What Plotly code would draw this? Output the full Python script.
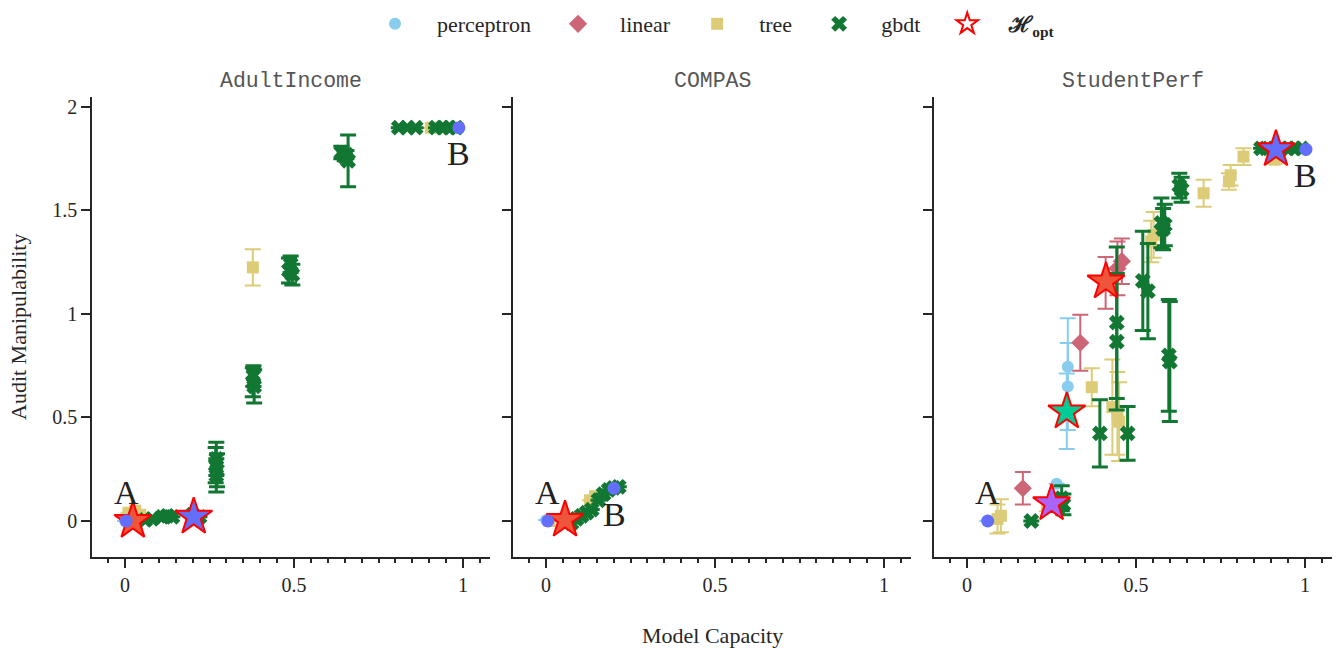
import plotly.graph_objects as go

# ---------------- data ----------------
panel_names = ["AdultIncome", "COMPAS", "StudentPerf"]
model_names = ["perceptron", "linear", "tree", "gbdt"]
model_colors = ["#88CCEE", "#CC6677", "#DDCC77", "#117733"]
model_symbols = ["circle", "diamond", "square", "x"]
model_sizes = [12, 14, 12, 14]

x_tick_vals = [0, 0.5, 1]
x_tick_text = ["0", "0.5", "1"]
y_tick_vals = [0, 0.5, 1, 1.5, 2]
y_tick_text = ["0", "0.5", "1", "1.5", "2"]

# AdultIncome
adult_perceptron_x = [0.0]
adult_perceptron_y = [0.0]
adult_perceptron_err = [0.0]
adult_linear_x = []
adult_linear_y = []
adult_linear_err = []
adult_tree_x = [0.01, 0.03, 0.045, 0.378, 0.905]
adult_tree_y = [0.04, 0.05, 0.03, 1.225, 1.9]
adult_tree_err = [0.0, 0.0, 0.0, 0.088, 0.0]
adult_gbdt_x = [0.06, 0.08, 0.11, 0.125, 0.14, 0.2, 0.22,
                0.27, 0.268, 0.272, 0.27,
                0.38, 0.378, 0.382,
                0.49, 0.485, 0.495,
                0.64, 0.655, 0.66, 0.65,
                0.81, 0.835, 0.86, 0.92, 0.94, 0.96, 0.98]
adult_gbdt_y = [0.005, 0.01, 0.02, 0.025, 0.02, 0.03, 0.02,
                0.30, 0.27, 0.245, 0.22,
                0.70, 0.67, 0.65,
                1.24, 1.21, 1.19,
                1.78, 1.77, 1.74, 1.76,
                1.9, 1.9, 1.9, 1.9, 1.9, 1.9, 1.9]
adult_gbdt_err = [0, 0, 0, 0, 0, 0, 0,
                  0.08, 0.085, 0.08, 0.08,
                  0.05, 0.07, 0.08,
                  0.04, 0.06, 0.05,
                  0.03, 0.02, 0.125, 0.02,
                  0, 0, 0, 0, 0, 0, 0]
adult_opt_x = [0.023, 0.203]
adult_opt_y = [0.0, 0.02]
adult_opt_fill = ["#EF553B", "#636EFA"]
adult_end_x = [0.003, 0.988]
adult_end_y = [0.0, 1.9]

# COMPAS
compas_perceptron_x = [0.0]
compas_perceptron_y = [0.005]
compas_perceptron_err = [0.0]
compas_linear_x = []
compas_linear_y = []
compas_linear_err = []
compas_tree_x = [0.01, 0.13, 0.145]
compas_tree_y = [0.0, 0.10, 0.12]
compas_tree_err = [0.0, 0.0, 0.0]
compas_gbdt_x = [0.075, 0.09, 0.105, 0.12, 0.135, 0.155, 0.17, 0.185, 0.2, 0.215]
compas_gbdt_y = [-0.01, 0.01, 0.025, 0.04, 0.055, 0.10, 0.13, 0.15, 0.16, 0.165]
compas_gbdt_err = [0, 0, 0, 0, 0, 0, 0, 0, 0, 0]
compas_opt_x = [0.056]
compas_opt_y = [0.005]
compas_opt_fill = ["#EF553B"]
compas_end_x = [0.005, 0.201]
compas_end_y = [0.0, 0.158]

# StudentPerf
student_perceptron_x = [0.06, 0.265, 0.298, 0.298, 0.295]
student_perceptron_y = [0.0, 0.18, 0.745, 0.65, 0.53]
student_perceptron_err = [0.0, 0.0, 0.234, 0.21, 0.182]
student_linear_x = [0.165, 0.335, 0.41, 0.445, 0.458]
student_linear_y = [0.158, 0.861, 1.15, 1.22, 1.255]
student_linear_err = [0.078, 0.135, 0.125, 0.13, 0.11]
student_tree_x = [0.09, 0.1, 0.236, 0.369, 0.43, 0.445, 0.45, 0.545, 0.552,
                  0.7, 0.775, 0.78, 0.818, 0.91]
student_tree_y = [0.01, 0.025, 0.077, 0.646, 0.55, 0.52, 0.48, 1.35, 1.382,
                  1.583, 1.64, 1.67, 1.76, 1.745]
student_tree_err = [0.07, 0.08, 0.03, 0.092, 0.23, 0.2, 0.19, 0.1, 0.11,
                    0.065, 0.04, 0.05, 0.04, 0.02]
student_gbdt_x = [0.19, 0.28, 0.285, 0.393, 0.443, 0.443, 0.475, 0.52, 0.535,
                  0.597, 0.6, 0.575, 0.585, 0.58, 0.628, 0.635,
                  0.87, 0.885, 0.93, 0.95, 0.97, 0.99]
student_gbdt_y = [0.0, 0.11, 0.08, 0.423, 0.958, 0.866, 0.423, 1.16, 1.11,
                  0.8, 0.77, 1.44, 1.43, 1.41, 1.62, 1.6,
                  1.8, 1.8, 1.8, 1.8, 1.8, 1.8]
student_gbdt_err = [0, 0.06, 0.05, 0.162, 0.366, 0.33, 0.13, 0.24, 0.23,
                    0.27, 0.29, 0.12, 0.1, 0.1, 0.06, 0.06,
                    0, 0, 0, 0, 0, 0]
student_opt_x = [0.25, 0.295, 0.411, 0.914]
student_opt_y = [0.085, 0.528, 1.156, 1.795]
student_opt_fill = ["#AB63FA", "#00CC96", "#EF553B", "#636EFA"]
student_end_x = [0.061, 1.003]
student_end_y = [0.0, 1.795]

panels = [
    dict(models=[(adult_perceptron_x, adult_perceptron_y, adult_perceptron_err),
                 (adult_linear_x, adult_linear_y, adult_linear_err),
                 (adult_tree_x, adult_tree_y, adult_tree_err),
                 (adult_gbdt_x, adult_gbdt_y, adult_gbdt_err)],
         opt=(adult_opt_x, adult_opt_y, adult_opt_fill),
         end=(adult_end_x, adult_end_y)),
    dict(models=[(compas_perceptron_x, compas_perceptron_y, compas_perceptron_err),
                 (compas_linear_x, compas_linear_y, compas_linear_err),
                 (compas_tree_x, compas_tree_y, compas_tree_err),
                 (compas_gbdt_x, compas_gbdt_y, compas_gbdt_err)],
         opt=(compas_opt_x, compas_opt_y, compas_opt_fill),
         end=(compas_end_x, compas_end_y)),
    dict(models=[(student_perceptron_x, student_perceptron_y, student_perceptron_err),
                 (student_linear_x, student_linear_y, student_linear_err),
                 (student_tree_x, student_tree_y, student_tree_err),
                 (student_gbdt_x, student_gbdt_y, student_gbdt_err)],
         opt=(student_opt_x, student_opt_y, student_opt_fill),
         end=(student_end_x, student_end_y)),
]

# ---------------- figure ----------------
W, H = 1342, 648
SERIF = "Liberation Serif, Times New Roman, serif"
MONO = "Liberation Mono, Courier New, monospace"
INK = "#262626"
END_COLOR = "#636EFA"

x_domains = [(92 / W, 490 / W), (513 / W, 911 / W), (934 / W, 1332 / W)]
y_domain = (1 - 557 / H, 1 - 97 / H)
x_range = [-0.098, 1.08]
y_range = [-0.174, 2.048]

fig = go.Figure()
pad_l = "\u00a0" * 4
pad_r = "\u00a0" * 4

for p, panel in enumerate(panels):
    xa = "x" if p == 0 else f"x{p + 1}"
    ya = "y" if p == 0 else f"y{p + 1}"
    for m, (xs, ys, es) in enumerate(panel["models"]):
        thick = 3 if model_names[m] == "gbdt" else 2
        fig.add_trace(go.Scatter(
            x=xs, y=ys, mode="markers", xaxis=xa, yaxis=ya,
            name=pad_l + model_names[m] + pad_r,
            legendgroup=model_names[m], showlegend=(p == 2),
            marker=dict(symbol=model_symbols[m], size=model_sizes[m],
                        color=model_colors[m], line=dict(width=0)),
            error_y=dict(type="data", array=es, symmetric=True,
                         color=model_colors[m], thickness=thick, width=8),
        ))
    ox, oy, ofill = panel["opt"]
    fig.add_trace(go.Scatter(
        x=ox, y=oy, mode="markers", xaxis=xa, yaxis=ya, showlegend=False,
        marker=dict(symbol="star", size=28, color=ofill,
                    line=dict(color="#FF0000", width=2)),
    ))
    ex, ey = panel["end"]
    fig.add_trace(go.Scatter(
        x=ex, y=ey, mode="markers", xaxis=xa, yaxis=ya, showlegend=False,
        marker=dict(symbol="circle", size=13, color=END_COLOR),
    ))
    # endpoint labels A (start) and B (end)
    fig.add_annotation(x=ex[0], y=ey[0], xref=xa, yref=ya, text="A",
                       showarrow=False, yshift=28,
                       font=dict(family=SERIF, size=34, color="#222222"))
    fig.add_annotation(x=ex[1], y=ey[1], xref=xa, yref=ya, text="B",
                       showarrow=False, yshift=-26,
                       font=dict(family=SERIF, size=34, color="#222222"))
    # panel title
    fig.add_annotation(x=(x_domains[p][0] + x_domains[p][1]) / 2, y=1 - 81 / H,
                       xref="paper", yref="paper", text=panel_names[p],
                       showarrow=False, xanchor="center", yanchor="middle",
                       font=dict(family=MONO, size=21.5, color="#555555"))

# legend entry for the optimal hypothesis marker
fig.add_trace(go.Scatter(
    x=[None], y=[None], mode="markers", name=pad_l + "<b>ℋ<sub>opt</sub></b>",
    marker=dict(symbol="star-open", size=24, color="#FF0000",
                line=dict(color="#FF0000", width=2)),
))

axis_common = dict(showgrid=False, zeroline=False, showline=True,
                   linecolor=INK, linewidth=1.5, ticks="outside",
                   tickcolor=INK, tickwidth=1.5, ticklen=9,
                   tickfont=dict(family=SERIF, size=20, color=INK))

layout = dict(
    width=W, height=H, margin=dict(l=0, r=0, t=0, b=0),
    paper_bgcolor="white", plot_bgcolor="white",
    showlegend=True,
    legend=dict(orientation="h", x=(395 - 20) / W, xanchor="left",
                y=1 - 24 / H, yanchor="middle",
                font=dict(family=SERIF, size=22, color=INK),
                bgcolor="rgba(0,0,0,0)", itemsizing="trace"),
)
for p in range(3):
    xk = "xaxis" if p == 0 else f"xaxis{p + 1}"
    yk = "yaxis" if p == 0 else f"yaxis{p + 1}"
    ya = "y" if p == 0 else f"y{p + 1}"
    xa = "x" if p == 0 else f"x{p + 1}"
    layout[xk] = dict(axis_common, domain=list(x_domains[p]), range=x_range,
                      anchor=ya, tickvals=x_tick_vals, ticktext=x_tick_text,
                      minor=dict(dtick=0.05, tick0=0, ticks="outside", ticklen=4,
                                 tickwidth=1.5, tickcolor=INK))
    layout[yk] = dict(axis_common, domain=list(y_domain), range=y_range,
                      anchor=xa, tickvals=y_tick_vals, ticktext=y_tick_text,
                      showticklabels=(p == 0))
fig.update_layout(**layout)

fig.add_annotation(x=712 / W, y=1 - 635 / H, xref="paper", yref="paper",
                   text="Model Capacity", showarrow=False,
                   xanchor="center", yanchor="middle",
                   font=dict(family=SERIF, size=22, color=INK))
fig.add_annotation(x=18 / W, y=1 - 327 / H, xref="paper", yref="paper",
                   text="Audit Manipulability", showarrow=False, textangle=-90,
                   xanchor="center", yanchor="middle",
                   font=dict(family=SERIF, size=22, color=INK))

fig.write_html("out.html")
